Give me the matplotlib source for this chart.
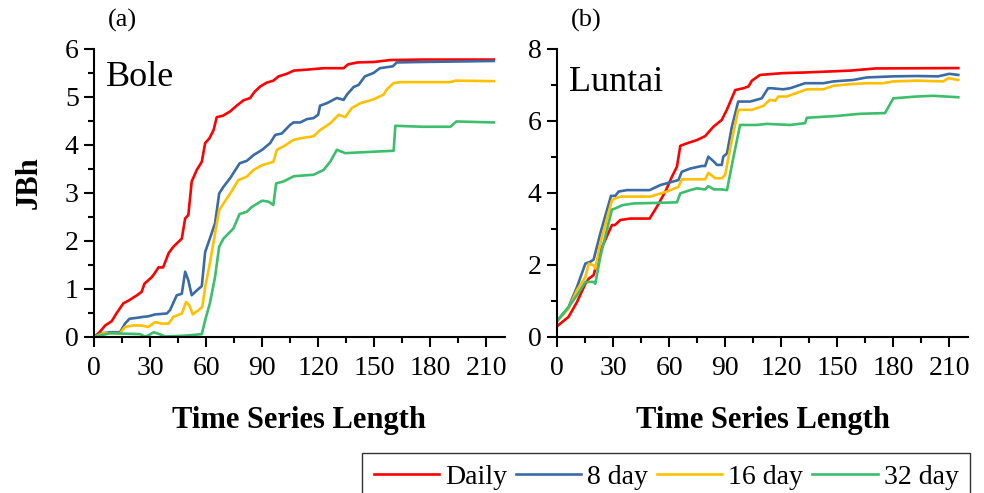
import matplotlib
matplotlib.use("Agg")
import matplotlib.pyplot as plt
from matplotlib.ticker import MultipleLocator

plt.rcParams['font.family'] = ['Liberation Serif', 'DejaVu Serif']

# ---------------- Panel (a) Bole ----------------
a_daily_x = [0, 3, 6, 9.5, 12, 15.7, 19, 23, 25.5, 27, 31, 32.7, 34.5, 37, 40, 42.5, 47, 48.8, 50.5,
             52.3, 55, 57.7, 59.5, 61.8, 64, 65.7, 69, 72.9, 76.4, 80, 83.6, 86, 89, 92.5, 96, 98.8,
             103, 107, 114, 123, 133.6, 136, 141, 150, 158.6, 176, 214]
a_daily_y = [0, 0.1, 0.24, 0.33, 0.49, 0.70, 0.77, 0.87, 0.94, 1.11, 1.25, 1.34, 1.45, 1.45, 1.75, 1.88,
             2.05, 2.47, 2.54, 3.24, 3.48, 3.65, 4.04, 4.14, 4.31, 4.58, 4.61, 4.70, 4.82, 4.93, 4.98,
             5.11, 5.22, 5.30, 5.34, 5.43, 5.48, 5.55, 5.57, 5.60, 5.60, 5.68, 5.72, 5.73, 5.77, 5.78,
             5.78]

a_8day_x = [0, 3, 8.6, 14, 16.6, 19, 23, 26.4, 29, 32.7, 39, 40.7, 44.3, 47, 48.8, 50.5, 52.3, 55,
            57.7, 59.5, 62, 64.8, 67, 69.3, 72.9, 78, 81.8, 85.4, 90, 94.3, 97, 100.5, 105, 106.8,
            110.4, 114, 117.5, 120, 121, 124.6, 130, 133.6, 135.4, 139, 141.6, 145, 149.6, 153, 160,
            162, 176, 214]
a_8day_y = [0, 0.07, 0.1, 0.1, 0.28, 0.38, 0.40, 0.42, 0.43, 0.47, 0.49, 0.56, 0.87, 0.90, 1.36, 1.18,
            0.87, 0.97, 1.06, 1.77, 2.05, 2.37, 2.99, 3.13, 3.31, 3.62, 3.67, 3.79, 3.90, 4.04, 4.21,
            4.24, 4.42, 4.47, 4.47, 4.54, 4.56, 4.63, 4.82, 4.87, 4.98, 4.94, 5.05, 5.21, 5.25, 5.43,
            5.50, 5.60, 5.64, 5.72, 5.73, 5.75]

a_16day_x = [0, 5, 14, 16.6, 21, 25.5, 29, 32.7, 36, 40, 42.5, 47, 49.3, 51, 52.9, 56, 58, 59.5, 62,
             64.8, 67, 69.3, 72.9, 77.3, 81.8, 85.4, 90, 96, 97.9, 101.4, 107, 112, 117.5, 121,
             126.4, 131, 134.5, 138, 142.5, 149.6, 155, 156.8, 160.4, 164, 190.7, 193.4, 214]
a_16day_y = [0, 0.08, 0.08, 0.21, 0.24, 0.24, 0.21, 0.31, 0.28, 0.28, 0.42, 0.49, 0.73, 0.66, 0.47,
             0.56, 0.63, 1.04, 1.53, 2.16, 2.64, 2.78, 2.99, 3.27, 3.34, 3.48, 3.58, 3.65, 3.90, 3.97,
             4.11, 4.15, 4.18, 4.31, 4.45, 4.63, 4.58, 4.77, 4.87, 4.95, 5.05, 5.16, 5.29, 5.31, 5.31,
             5.34, 5.33]

a_32day_x = [0, 8.6, 15.7, 24.6, 27.3, 29, 32, 35, 38, 49.6, 57.7, 59.5, 62, 64.8, 67, 69.3, 74.6,
             77.9, 81.8, 84.5, 90, 93.4, 96, 97.5, 101.4, 107, 117.5, 122.9, 126.4, 130, 134.5, 139,
             149.6, 160.4, 161.3, 176, 190.7, 194, 214]
a_32day_y = [0, 0.08, 0.07, 0.06, 0.01, 0.03, 0.10, 0.06, 0.01, 0.03, 0.06, 0.35, 0.70, 1.25, 1.88,
             2.05, 2.26, 2.56, 2.61, 2.71, 2.84, 2.82, 2.75, 3.20, 3.24, 3.35, 3.38, 3.48, 3.65, 3.90,
             3.83, 3.84, 3.86, 3.88, 4.40, 4.38, 4.38, 4.49, 4.47]

# ---------------- Panel (b) Luntai ----------------
b_daily_x = [0.3, 6.2, 10.7, 15.2, 17, 19.6, 23, 29.4, 31, 33.9, 39.2, 49.6, 53.5, 58, 61.5, 64.2,
             66, 69.5, 74.9, 79.3, 83.7, 88.2, 90.9, 95.4, 99.8, 102.5, 104.3, 108.7, 121, 134, 157,
             170.5, 214.8]
b_daily_y = [0.31, 0.56, 0.97, 1.48, 1.62, 1.72, 2.37, 3.11, 3.11, 3.25, 3.29, 3.29, 3.62, 4.04, 4.45,
             4.73, 5.31, 5.38, 5.47, 5.58, 5.84, 6.03, 6.31, 6.86, 6.91, 6.96, 7.12, 7.28, 7.33, 7.35,
             7.40, 7.46, 7.47]

b_8day_x = [0.3, 6.2, 10.7, 15.2, 17.8, 19.6, 23.2, 28.9, 31.2, 33, 37.4, 49.6, 55.3, 65, 66.8, 71.3,
            77.5, 79.3, 81, 84, 85.6, 88.2, 89, 91, 93.6, 97, 103.4, 109.6, 113, 115, 121, 124.8,
            132.8, 142.6, 148, 158.6, 165.8, 180, 192.5, 204, 210, 214.8]
b_8day_y = [0.46, 0.83, 1.39, 2.04, 2.09, 2.15, 2.88, 3.92, 3.92, 4.04, 4.08, 4.08, 4.22, 4.36, 4.59,
            4.68, 4.75, 4.75, 5.01, 4.87, 4.78, 4.78, 5.01, 5.10, 5.84, 6.54, 6.54, 6.63, 6.91, 6.91,
            6.88, 6.91, 7.05, 7.05, 7.10, 7.14, 7.21, 7.24, 7.25, 7.24, 7.31, 7.28]

b_16day_x = [0.3, 6.2, 10.7, 15.2, 17, 19.6, 20.5, 23.2, 29.4, 31.2, 33.9, 49.9, 58.8, 65, 66.8, 79.3,
             81, 84.7, 88.2, 90, 93.6, 97, 104.3, 110.5, 114, 116.8, 118.5, 123, 133.7, 142.6, 148,
             158.6, 165.8, 174.7, 180, 192.5, 206.8, 209.4, 214.8]
b_16day_y = [0.46, 0.79, 1.30, 1.67, 2.04, 1.99, 1.90, 2.60, 3.80, 3.85, 3.90, 3.90, 4.04, 4.17, 4.38,
             4.38, 4.56, 4.41, 4.41, 4.50, 5.47, 6.31, 6.31, 6.42, 6.59, 6.56, 6.68, 6.68, 6.88, 6.88,
             6.98, 7.03, 7.05, 7.05, 7.10, 7.12, 7.10, 7.19, 7.14]

b_32day_x = [0.3, 6.2, 10.7, 15.2, 19.6, 20.5, 23.2, 29.4, 31.2, 34.8, 41, 64.2, 66, 71.3, 74.9, 79.3,
             81, 84, 88.2, 91, 94.5, 98, 107, 112.3, 124.8, 132.8, 133.7, 149.7, 162.2, 175.6, 180,
             192.5, 201.4, 214.8]
b_32day_y = [0.46, 0.83, 1.16, 1.53, 1.53, 1.48, 2.23, 3.54, 3.57, 3.66, 3.71, 3.74, 3.99, 4.08, 4.13,
             4.10, 4.19, 4.10, 4.10, 4.08, 5.01, 5.89, 5.89, 5.92, 5.89, 5.94, 6.09, 6.14, 6.20, 6.22,
             6.63, 6.68, 6.70, 6.66]

series_labels = ['Daily', '8 day', '16 day', '32 day']
colors = ['#FF0000', '#3A6BA5', '#FFC000', '#3CBE6C']
x_ticks = [0, 30, 60, 90, 120, 150, 180, 210]

W, H = 984, 493
fig = plt.figure(figsize=(W / 100, H / 100), dpi=100)

ax_a = fig.add_axes([94 / W, 1 - 337 / H, (505 - 94) / W, (337 - 49) / H])
ax_b = fig.add_axes([557 / W, 1 - 337 / H, (968 - 557) / W, (337 - 49) / H])

panels = [
    (ax_a, [(a_daily_x, a_daily_y), (a_8day_x, a_8day_y), (a_16day_x, a_16day_y), (a_32day_x, a_32day_y)],
     6, 1, 0.5, 'Bole', '(a)', 0.90),
    (ax_b, [(b_daily_x, b_daily_y), (b_8day_x, b_8day_y), (b_16day_x, b_16day_y), (b_32day_x, b_32day_y)],
     8, 2, 1, 'Luntai', '(b)', 0.885),
]

handles = []
for ax, data, ymax, ymaj, ymin, name, tag, ny in panels:
    hs = []
    for (xs, ys), c, lab in zip(data, colors, series_labels):
        h, = ax.plot(xs, ys, color=c, lw=1.9, label=lab, solid_joinstyle='round')
        hs.append(h)
    handles = hs
    ax.set_xlim(0, 220)
    ax.set_ylim(0, ymax)
    ax.set_xticks(x_ticks)
    ax.xaxis.set_minor_locator(MultipleLocator(15))
    ax.yaxis.set_major_locator(MultipleLocator(ymaj))
    ax.yaxis.set_minor_locator(MultipleLocator(ymin))
    for s in ['top', 'right']:
        ax.spines[s].set_visible(False)
    for s in ['left', 'bottom']:
        ax.spines[s].set_linewidth(1.5)
    ax.tick_params(which='major', direction='out', length=7, width=1.5, labelsize=20, pad=4)
    ax.tick_params(axis='x', which='major', pad=7)
    ax.tick_params(which='minor', direction='out', length=4, width=1.5)
    ax.set_xlabel('Time Series Length', fontsize=22, fontweight='bold', labelpad=18)
    ax.text(0.03, ny, name, transform=ax.transAxes, fontsize=26, ha='left', va='center')
    ax.text(0.033, 1.10, tag, transform=ax.transAxes, fontsize=19, ha='left', va='center')

ax_a.set_ylabel('JBh', fontsize=22, fontweight='bold')
ax_a.yaxis.set_label_coords(-0.122, 0.535)

fig.legend(handles, series_labels, loc='upper left', bbox_to_anchor=(362 / W, 1 - 453 / H),
           ncol=4, fontsize=20, frameon=True, fancybox=False, edgecolor='#333333',
           framealpha=1, borderaxespad=0, borderpad=0.42, handlelength=2.35, handletextpad=0.22,
           columnspacing=0.32)

fig.savefig('out.png', dpi=100)
